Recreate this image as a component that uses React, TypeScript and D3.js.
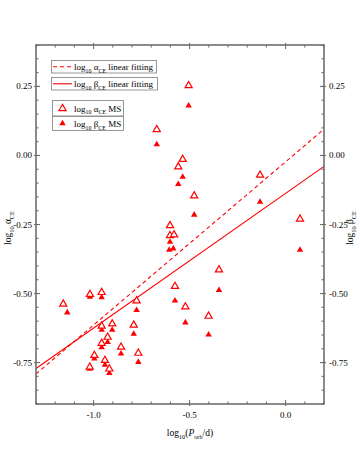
import React, { useEffect, useRef } from 'react';
import * as d3 from 'd3';

// log10(Porb/d) of each system, open triangles = alpha, filled = beta
const alphaX = [-0.505, -0.671, -0.536, -0.559, -0.476, -0.133, 0.075, -0.602, -0.602, -0.581,
  -0.347, -0.576, -0.522, -0.401, -1.158, -1.019, -0.958, -0.776, -0.958, -0.903,
  -0.791, -0.927, -0.958, -0.857, -0.767, -0.996, -0.941, -1.020, -0.918];
const alphaY = [0.253, 0.094, -0.014, -0.041, -0.146, -0.071, -0.230, -0.254, -0.290, -0.287,
  -0.414, -0.474, -0.548, -0.582, -0.538, -0.503, -0.496, -0.526, -0.618, -0.610,
  -0.614, -0.658, -0.680, -0.694, -0.716, -0.724, -0.742, -0.766, -0.773];
const betaX = [-0.505, -0.671, -0.536, -0.559, -0.476, -0.133, 0.075, -0.602, -0.606, -0.585,
  -0.347, -0.576, -0.522, -0.401, -1.137, -1.019, -0.958, -0.776, -0.958, -0.903,
  -0.791, -0.927, -0.958, -0.857, -0.767, -0.996, -0.941, -1.020, -0.918];
const betaY = [0.180, 0.040, -0.078, -0.104, -0.215, -0.168, -0.342, -0.313, -0.342, -0.337,
  -0.488, -0.526, -0.605, -0.649, -0.569, -0.512, -0.514, -0.560, -0.632, -0.632,
  -0.646, -0.676, -0.695, -0.718, -0.748, -0.736, -0.758, -0.773, -0.788];

// linear fits: [slope, intercept]
const alphaFit = [0.591, -0.023];
const betaFit = [0.488, -0.137];

const xTickValues = [-1.0, -0.5, 0.0];
const yTickValues = [-0.75, -0.5, -0.25, 0.0, 0.25];
const xDomain = [-1.3, 0.2];
const yDomain = [-0.9, 0.4];

const RED = '#ff0000';
const FRAME = '#6e6e6e';
const FONT = '"Liberation Serif", "Times New Roman", serif';

const dimension = { left: 36, right: 324, top: 45, bottom: 404 };

type Part = { t: string; sub?: boolean; it?: boolean };

function richText(g: any, parts: Part[], size: number) {
  const text = g.append('text').attr('font-family', FONT).attr('font-size', size).attr('fill', '#000');
  let down = false;
  parts.forEach(p => {
    const span = text.append('tspan').text(p.t);
    if (p.sub && !down) { span.attr('dy', size * 0.28); down = true; }
    else if (!p.sub && down) { span.attr('dy', -size * 0.28); down = false; }
    if (p.sub) span.attr('font-size', size * 0.66);
    if (p.it) span.attr('font-style', 'italic');
  });
  return text;
}

const alphaLabel: Part[] = [{ t: 'log' }, { t: '10', sub: true }, { t: ' α' }, { t: 'CE', sub: true }];
const betaLabel: Part[] = [{ t: 'log' }, { t: '10', sub: true }, { t: ' β' }, { t: 'CE', sub: true }];

function triangle(size: number) {
  return d3.symbol().type(d3.symbolTriangle).size(size)();
}

function drawFrameAndTicks(svg: any, x: any, y: any) {
  const { left, right, top, bottom } = dimension;
  const minorX = d3.range(-13, 3).map(i => i / 10);
  const minorY = d3.range(-18, 9).map(i => i / 20);
  const isMajor = (v: number, step: number) => Math.abs(v / step - Math.round(v / step)) < 1e-6;
  const g = svg.append('g').attr('stroke', FRAME).attr('stroke-width', 1.1);

  minorX.forEach(v => {
    const px = x(v);
    const major = isMajor(v, 0.5);
    const inL = major ? 4 : 2.5;
    const outL = major ? 2 : 0;
    g.append('line').attr('x1', px).attr('x2', px).attr('y1', bottom + outL).attr('y2', bottom - inL);
    g.append('line').attr('x1', px).attr('x2', px).attr('y1', top - outL).attr('y2', top + inL);
  });
  minorY.forEach(v => {
    const py = y(v);
    const major = isMajor(v, 0.25);
    const inL = major ? 4 : 2.5;
    const outL = major ? 2 : 0;
    g.append('line').attr('x1', left - outL).attr('x2', left + inL).attr('y1', py).attr('y2', py);
    g.append('line').attr('x1', right + outL).attr('x2', right - inL).attr('y1', py).attr('y2', py);
  });

  svg.append('rect')
    .attr('x', left).attr('y', top)
    .attr('width', right - left).attr('height', bottom - top)
    .attr('fill', 'none').attr('stroke', FRAME).attr('stroke-width', 1.6);

  xTickValues.forEach(v => {
    svg.append('text')
      .attr('x', x(v)).attr('y', bottom + 14)
      .attr('text-anchor', 'middle').attr('font-family', FONT).attr('font-size', 9)
      .text(v.toFixed(1));
  });
  yTickValues.forEach(v => {
    svg.append('text')
      .attr('x', left - 4).attr('y', y(v) + 3)
      .attr('text-anchor', 'end').attr('font-family', FONT).attr('font-size', 9)
      .text(v.toFixed(2));
    svg.append('text')
      .attr('x', right + 5).attr('y', y(v) + 3)
      .attr('text-anchor', 'start').attr('font-family', FONT).attr('font-size', 9)
      .text(v.toFixed(2));
  });
}

function drawAxisLabels(svg: any) {
  const xl = richText(svg, [{ t: 'log' }, { t: '10', sub: true }, { t: '(' }, { t: 'P', it: true }, { t: 'orb', sub: true }, { t: '/d)' }], 9.5);
  xl.attr('x', 190).attr('y', 436).attr('text-anchor', 'middle');

  const yl = richText(svg, alphaLabel, 9.5);
  yl.attr('text-anchor', 'middle').attr('transform', 'translate(11,228) rotate(-90)');

  const yr = richText(svg, betaLabel, 9.5);
  yr.attr('text-anchor', 'middle').attr('transform', 'translate(353,228) rotate(-90)');
}

function drawFits(svg: any, x: any, y: any) {
  const fitPath = (fit: number[]) =>
    d3.line<number>().x(d => x(d)).y(d => y(fit[0] * d + fit[1]))(xDomain);

  svg.append('path')
    .attr('d', fitPath(alphaFit))
    .attr('fill', 'none').attr('stroke', RED).attr('stroke-width', 1.1)
    .attr('stroke-dasharray', '4,3');
  svg.append('path')
    .attr('d', fitPath(betaFit))
    .attr('fill', 'none').attr('stroke', RED).attr('stroke-width', 1.1);
}

function drawPoints(svg: any, x: any, y: any) {
  const open = triangle(22);
  const filled = triangle(18);
  betaX.forEach((v, i) => {
    svg.append('path')
      .attr('d', filled)
      .attr('transform', `translate(${x(v)},${y(betaY[i])})`)
      .attr('fill', RED).attr('stroke', 'none');
  });
  alphaX.forEach((v, i) => {
    svg.append('path')
      .attr('d', open)
      .attr('transform', `translate(${x(v)},${y(alphaY[i])})`)
      .attr('fill', '#fff').attr('stroke', RED).attr('stroke-width', 1.2);
  });
}

function drawLegend(svg: any) {
  const box = (x0: number, y0: number, w: number, h: number) =>
    svg.append('rect').attr('x', x0).attr('y', y0).attr('width', w).attr('height', h)
      .attr('fill', '#fff').attr('stroke', '#8c8c8c').attr('stroke-width', 0.9);

  box(51.5, 60.5, 105, 12.5);
  svg.append('line').attr('x1', 53).attr('x2', 72).attr('y1', 66.8).attr('y2', 66.8)
    .attr('stroke', RED).attr('stroke-width', 1.1).attr('stroke-dasharray', '4,3');
  richText(svg, [...alphaLabel, { t: ' linear fitting' }], 9).attr('x', 74).attr('y', 70);

  box(51.5, 77.5, 106, 12.5);
  svg.append('line').attr('x1', 53).attr('x2', 72).attr('y1', 83.8).attr('y2', 83.8)
    .attr('stroke', RED).attr('stroke-width', 1.1);
  richText(svg, [...betaLabel, { t: ' linear fitting' }], 9).attr('x', 74).attr('y', 87);

  box(52.5, 100.5, 71, 15.5);
  svg.append('path').attr('d', triangle(22)).attr('transform', 'translate(62.5,108.5)')
    .attr('fill', '#fff').attr('stroke', RED).attr('stroke-width', 1.2);
  richText(svg, [...alphaLabel, { t: ' MS' }], 9).attr('x', 74).attr('y', 111.5);

  box(52.5, 116.5, 71, 14);
  svg.append('path').attr('d', triangle(18)).attr('transform', 'translate(62.5,123.5)')
    .attr('fill', RED);
  richText(svg, [...betaLabel, { t: ' MS' }], 9).attr('x', 74).attr('y', 127);
}

function draw(node: SVGSVGElement) {
  const svg = d3.select(node);
  svg.selectAll('*').remove();
  const x = d3.scaleLinear().domain(xDomain).range([dimension.left, dimension.right]);
  const y = d3.scaleLinear().domain(yDomain).range([dimension.bottom, dimension.top]);

  svg.append('clipPath').attr('id', 'plot-clip')
    .append('rect').attr('x', dimension.left).attr('y', dimension.top)
    .attr('width', dimension.right - dimension.left).attr('height', dimension.bottom - dimension.top);

  const plot = svg.append('g').attr('clip-path', 'url(#plot-clip)');
  drawFits(plot, x, y);
  drawPoints(plot, x, y);
  drawFrameAndTicks(svg, x, y);
  drawLegend(svg);
  drawAxisLabels(svg);
}

export default function App() {
  const ref = useRef<SVGSVGElement>(null);
  useEffect(() => {
    if (ref.current) draw(ref.current);
  }, []);
  return (
    <svg ref={ref} width={360} height={450}
      style={{ position: 'absolute', left: 0, top: 0, background: '#fff' }} />
  );
}
